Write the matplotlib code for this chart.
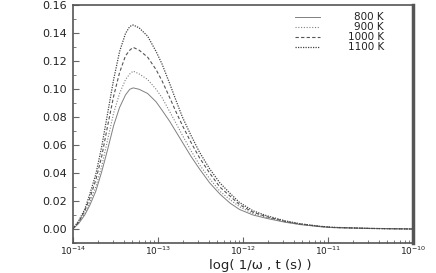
import numpy as np
import matplotlib
matplotlib.use('Agg')
import matplotlib.pyplot as plt
from matplotlib.ticker import MultipleLocator, LogLocator, FuncFormatter

plt.rcParams['font.family'] = ['DejaVu Sans']

# log10 of time (s)
log_t = [-14.00, -13.93, -13.86, -13.80, -13.73, -13.66, -13.59, -13.52, -13.45,
         -13.38, -13.33, -13.29, -13.22, -13.12, -13.02, -12.95, -12.86, -12.78,
         -12.71, -12.61, -12.51, -12.39, -12.27, -12.15, -12.04, -11.88, -11.72,
         -11.50, -11.33, -11.10, -10.94, -10.50, -10.00]

y_800 = [0.000, 0.004, 0.010, 0.017, 0.027, 0.041, 0.057, 0.074, 0.087, 0.096, 0.100,
         0.101, 0.100, 0.097, 0.091, 0.085, 0.077, 0.069, 0.062, 0.052, 0.043, 0.033,
         0.025, 0.0185, 0.014, 0.010, 0.0076, 0.0048, 0.0032, 0.0017, 0.0010, 0.0004, 0.0]
y_900 = [0.000, 0.005, 0.011, 0.019, 0.030, 0.045, 0.064, 0.083, 0.097, 0.107, 0.111,
         0.113, 0.111, 0.107, 0.100, 0.094, 0.084, 0.075, 0.067, 0.056, 0.046, 0.036,
         0.027, 0.021, 0.016, 0.011, 0.0082, 0.0051, 0.0034, 0.0018, 0.0011, 0.0004, 0.0]
y_1000 = [0.000, 0.005, 0.013, 0.022, 0.035, 0.052, 0.074, 0.095, 0.112, 0.124, 0.128,
          0.130, 0.128, 0.123, 0.114, 0.106, 0.094, 0.083, 0.074, 0.062, 0.051, 0.040,
          0.030, 0.0235, 0.0175, 0.012, 0.0088, 0.0054, 0.0036, 0.0019, 0.0011, 0.0004, 0.0]
y_1100 = [0.000, 0.006, 0.014, 0.025, 0.039, 0.059, 0.083, 0.107, 0.127, 0.140, 0.145,
          0.146, 0.144, 0.138, 0.127, 0.118, 0.104, 0.091, 0.080, 0.067, 0.055, 0.043,
          0.033, 0.0255, 0.019, 0.013, 0.0095, 0.0058, 0.0038, 0.0020, 0.0012, 0.0004, 0.0]

labels = ['800 K', '900 K', '1000 K', '1100 K']

t = np.power(10.0, log_t)

fig = plt.figure(figsize=(4.36, 2.73), dpi=100)
ax = fig.add_axes([0.167, 0.110, 0.780, 0.870])

styles = [('#808080', 0.7, '-'),
          ('#808080', 0.8, (0, (1, 1.5))),
          ('#555555', 0.8, (0, (3, 2))),
          ('#444444', 0.9, (0, (1, 1)))]

series = [y_800, y_900, y_1000, y_1100]
for ys, (c, lw, ls), lab in zip(series, styles, labels):
    ax.plot(t, ys, color=c, lw=lw, ls=ls, label=lab)

ax.set_xscale('log')
ax.set_xlim(1e-14, 1e-10)
ax.set_ylim(-0.01, 0.16)

ax.yaxis.set_major_locator(MultipleLocator(0.02))
ax.yaxis.set_minor_locator(MultipleLocator(0.01))
ax.yaxis.set_major_formatter(FuncFormatter(lambda v, p: '%.2f' % v))
ax.xaxis.set_major_locator(LogLocator(base=10, numticks=10))
ax.xaxis.set_minor_locator(LogLocator(base=10, subs=np.arange(2, 10), numticks=20))

ax.tick_params(axis='both', which='both', direction='in', colors='#666666', labelcolor='#222222')
ax.tick_params(axis='both', which='major', length=4, width=0.8, labelsize=8)
ax.tick_params(axis='both', which='minor', length=2, width=0.6)
ax.tick_params(axis='y', pad=4)
ax.tick_params(axis='x', pad=1, labelsize=6.5)

for side in ['left', 'bottom', 'top']:
    ax.spines[side].set_color('#555555')
    ax.spines[side].set_linewidth(1.2)
ax.spines['right'].set_color('#555555')
ax.spines['right'].set_linewidth(2.5)

ax.set_xlabel('log( 1/\u03c9 , t (s) )', fontsize=9.5, color='#222222')
ax.xaxis.set_label_coords(0.55, -0.066)

# legend: short line sample on the left, label right-aligned
leg_y = [0.952, 0.909, 0.867, 0.824]
for (c, lw, ls), lab, yy in zip(styles, labels, leg_y):
    ax.plot([0.653, 0.726], [yy, yy], transform=ax.transAxes, color=c, lw=lw, ls=ls)
    ax.text(0.915, yy, lab, transform=ax.transAxes, ha='right', va='center',
            fontsize=7.5, color='#222222')

fig.savefig('out.png', dpi=100)
